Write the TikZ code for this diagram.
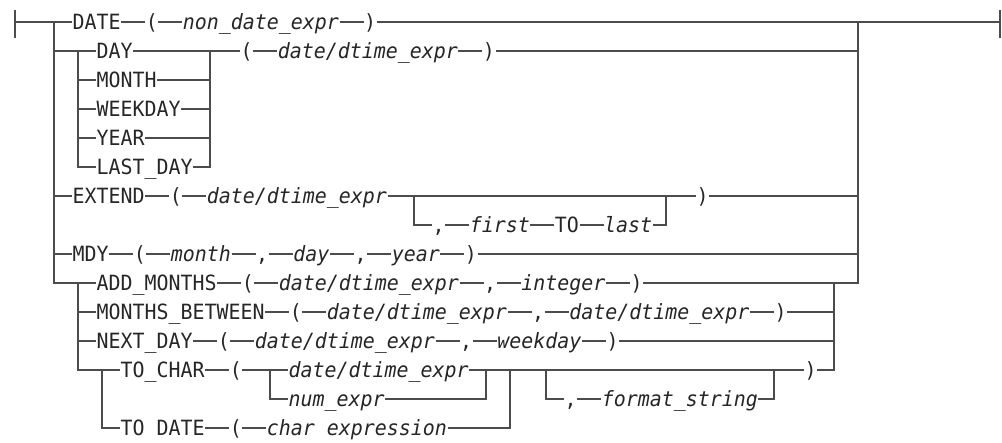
\documentclass[tikz,border=0pt]{standalone}
\usepackage{fontspec}
\newfontfamily\railfont[FakeStretch=0.949]{DejaVu Sans Mono}
\usetikzlibrary{positioning}

\begin{document}
\begin{tikzpicture}[x=1pt, y=1pt, node distance=24pt, line width=1.2pt, color=black!70,
  kw/.style={inner sep=0pt, text height=15.3pt, text depth=0pt, anchor=west, text=black!85, font=\railfont\fontsize{21pt}{24pt}\selectfont},
  var/.style={kw, font=\railfont\fontsize{21pt}{24pt}\selectfont\itshape}]
\useasboundingbox (0,0) rectangle (1002,-443);
% junctions
\coordinate (st) at (15,-22);
\coordinate (j0) at (54,-22);
\coordinate (j9) at (54,-283);
\coordinate (k0) at (858,-22);
\coordinate (k9) at (858,-283);
\coordinate (en) at (1000,-22);
\coordinate (g1) at (78,-51);
\coordinate (g5) at (78,-167);
\coordinate (h1) at (210,-51);
\coordinate (h5) at (210,-167);
\coordinate (e6) at (414,-196);
\coordinate (e7) at (414,-225);
\coordinate (f6) at (666,-196);
\coordinate (f7) at (666,-225);
\coordinate (a9) at (78,-283);
\coordinate (a12) at (78,-370);
\coordinate (b9) at (834,-283);
\coordinate (b12) at (834,-370);
\coordinate (t12) at (102,-370);
\coordinate (t14) at (102,-428);
\coordinate (c12) at (270,-370);
\coordinate (c13) at (270,-399);
\coordinate (d12) at (486,-370);
\coordinate (d13) at (486,-399);
\coordinate (u12) at (510,-370);
\coordinate (u14) at (510,-428);
\coordinate (o12) at (546,-370);
\coordinate (o13) at (546,-399);
\coordinate (p12) at (774,-370);
\coordinate (p13) at (774,-399);
% DATE
\node[kw] (date) at (72,-22) {DATE};
\node[kw,right=of date] (date-l) {(};
\node[var,right=of date-l] (date-arg) {non\_date\_expr};
\node[kw,right=of date-arg] (date-r) {)};
% DAY ... LAST_DAY
\node[kw] (day) at (96,-51) {DAY};
\node[kw] (month) at (96,-80) {MONTH};
\node[kw] (wkday) at (96,-109) {WEEKDAY};
\node[kw] (year) at (96,-138) {YEAR};
\node[kw] (lastday) at (96,-167) {LAST\_DAY};
\node[kw,right=30pt of h1] (day-l) {(};
\node[var,right=of day-l] (day-arg) {date/dtime\_expr};
\node[kw,right=of day-arg] (day-r) {)};
% EXTEND
\node[kw] (extend) at (72,-196) {EXTEND};
\node[kw,right=of extend] (ext-l) {(};
\node[var,right=of ext-l] (ext-arg) {date/dtime\_expr};
\node[kw,right=18pt of e7] (ext-c) {,};
\node[var,right=of ext-c] (ext-first) {first};
\node[kw,right=of ext-first] (ext-to) {TO};
\node[var,right=of ext-to] (ext-last) {last};
\node[kw,right=30pt of f6] (ext-r) {)};
% MDY
\node[kw] (mdy) at (72,-254) {MDY};
\node[kw,right=of mdy] (mdy-l) {(};
\node[var,right=of mdy-l] (mdy-m) {month};
\node[kw,right=of mdy-m] (mdy-c1) {,};
\node[var,right=of mdy-c1] (mdy-d) {day};
\node[kw,right=of mdy-d] (mdy-c2) {,};
\node[var,right=of mdy-c2] (mdy-y) {year};
\node[kw,right=of mdy-y] (mdy-r) {)};
% ADD_MONTHS
\node[kw] (addm) at (96,-283) {ADD\_MONTHS};
\node[kw,right=of addm] (addm-l) {(};
\node[var,right=of addm-l] (addm-arg) {date/dtime\_expr};
\node[kw,right=of addm-arg] (addm-c) {,};
\node[var,right=of addm-c] (addm-int) {integer};
\node[kw,right=of addm-int] (addm-r) {)};
% MONTHS_BETWEEN
\node[kw] (mbet) at (96,-312) {MONTHS\_BETWEEN};
\node[kw,right=of mbet] (mbet-l) {(};
\node[var,right=of mbet-l] (mbet-a) {date/dtime\_expr};
\node[kw,right=of mbet-a] (mbet-c) {,};
\node[var,right=of mbet-c] (mbet-b) {date/dtime\_expr};
\node[kw,right=of mbet-b] (mbet-r) {)};
% NEXT_DAY
\node[kw] (nday) at (96,-341) {NEXT\_DAY};
\node[kw,right=of nday] (nday-l) {(};
\node[var,right=of nday-l] (nday-arg) {date/dtime\_expr};
\node[kw,right=of nday-arg] (nday-c) {,};
\node[var,right=of nday-c] (nday-wk) {weekday};
\node[kw,right=of nday-wk] (nday-r) {)};
% TO_CHAR / TO DATE
\node[kw] (tochar) at (120,-370) {TO\_CHAR};
\node[kw,right=of tochar] (toc-l) {(};
\node[var,right=18pt of c12] (toc-arg) {date/dtime\_expr};
\node[var,right=18pt of c13] (toc-num) {num\_expr};
\node[kw,right=18pt of o13] (fmt-c) {,};
\node[var,right=of fmt-c] (fmt) {format\_string};
\node[kw,right=30pt of p12] (toc-r) {)};
\node[kw] (todate) at (120,-428) {TO DATE};
\node[kw,right=of todate] (tod-l) {(};
\node[var,right=of tod-l] (tod-arg) {char expression};
% connectors
\draw ([yshift=12pt]st) -- ([yshift=-16pt]st);
\draw ([yshift=12pt]en) -- ([yshift=-16pt]en);
\draw (st) -- (date) -- (date-l) -- (date-arg) -- (date-r) -- (en);
\draw (j0) -- (j9) -- (addm) -- (addm-l) -- (addm-arg) -- (addm-c) -- (addm-int) -- (addm-r) -- (k9) -- (k0);
\draw (j0 |- g1) -- (day) -- (h1) -- (day-l) -- (day-arg) -- (day-r) -- (k0 |- h1);
\draw (g1) -- (g5) -- (lastday) -- (h5) -- (h1);
\foreach \n in {month,wkday,year}
  \draw (g1 |- \n) -- (\n) -- (h1 |- \n);
\draw (j0 |- extend) -- (extend) -- (ext-l) -- (ext-arg) -- (f6) -- (ext-r) -- (k0 |- ext-r);
\draw (e6) -- (e7) -- (ext-c) -- (ext-first) -- (ext-to) -- (ext-last) -- (f7) -- (f6);
\draw (j0 |- mdy) -- (mdy) -- (mdy-l) -- (mdy-m) -- (mdy-c1) -- (mdy-d) -- (mdy-c2) -- (mdy-y) -- (mdy-r) -- (k0 |- mdy-r);
\draw (a9 |- mbet) -- (mbet) -- (mbet-l) -- (mbet-a) -- (mbet-c) -- (mbet-b) -- (mbet-r) -- (b9 |- mbet-r);
\draw (a9 |- nday) -- (nday) -- (nday-l) -- (nday-arg) -- (nday-c) -- (nday-wk) -- (nday-r) -- (b9 |- nday-r);
\draw (a9) -- (a12) -- (tochar) -- (toc-l) -- (c12) -- (toc-arg) -- (p12) -- (toc-r) -- (b12) -- (b9);
\draw (t12) -- (t14) -- (todate) -- (tod-l) -- (tod-arg) -- (u14) -- (u12);
\draw (c12) -- (c13) -- (toc-num) -- (d13) -- (d12);
\draw (o12) -- (o13) -- (fmt-c) -- (fmt) -- (p13) -- (p12);
\end{tikzpicture}
\end{document}
